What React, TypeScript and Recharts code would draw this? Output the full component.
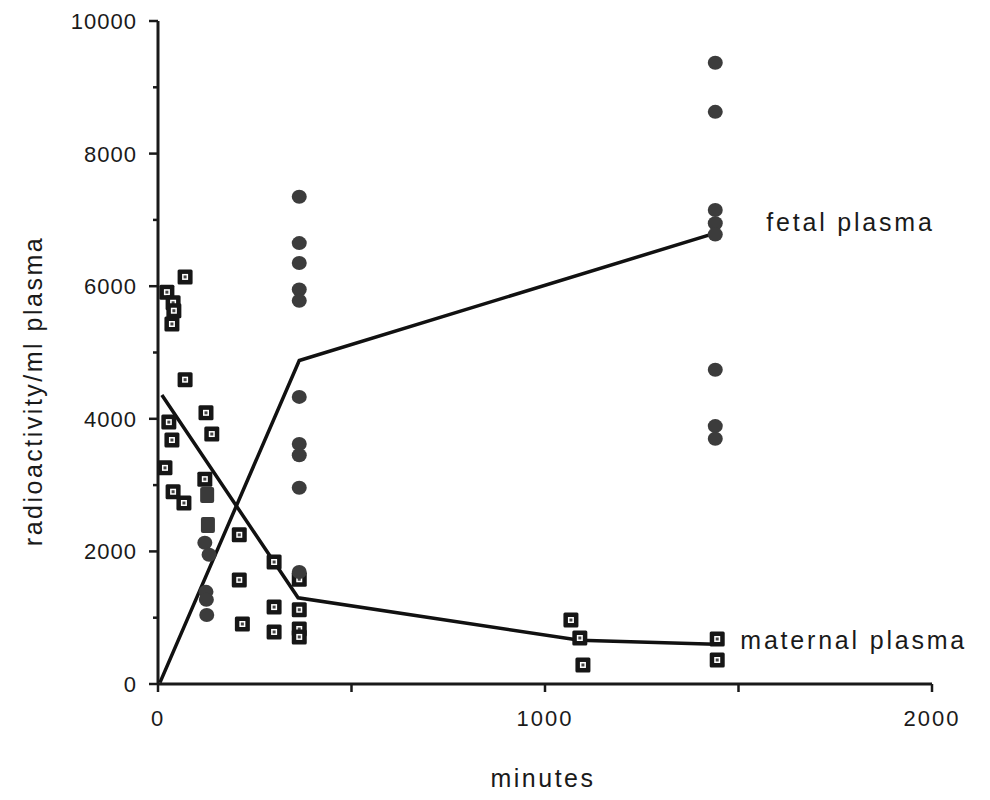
import React from 'react';
import { ScatterChart, Scatter, XAxis, YAxis, Label, ReferenceLine } from 'recharts';

// maternal plasma samples (open squares), minutes vs radioactivity
const maternalPoints = [
  { t: 23, v: 5910 }, { t: 39, v: 5750 }, { t: 41, v: 5630 }, { t: 36, v: 5430 },
  { t: 70, v: 6140 }, { t: 70, v: 4590 }, { t: 28, v: 3950 }, { t: 36, v: 3680 },
  { t: 18, v: 3260 }, { t: 39, v: 2900 }, { t: 67, v: 2730 }, { t: 124, v: 4090 },
  { t: 139, v: 3770 }, { t: 121, v: 3090 }, { t: 210, v: 2250 }, { t: 210, v: 1570 },
  { t: 218, v: 905 }, { t: 300, v: 1840 }, { t: 300, v: 1160 }, { t: 300, v: 785 },
  { t: 365, v: 1580 }, { t: 365, v: 1120 }, { t: 365, v: 830 }, { t: 365, v: 710 },
  { t: 1067, v: 965 }, { t: 1090, v: 694 }, { t: 1098, v: 287 },
  { t: 1445, v: 679 }, { t: 1445, v: 362 },
];

// dark filled squares near 2 h
const filledSquares = [{ t: 127, v: 2850 }, { t: 129, v: 2400 }];

// fetal plasma samples (filled dots)
const fetalPoints = [
  { t: 121, v: 2130 }, { t: 132, v: 1950 }, { t: 124, v: 1390 }, { t: 125, v: 1270 }, { t: 126, v: 1040 },
  { t: 365, v: 7350 }, { t: 365, v: 6650 }, { t: 365, v: 6350 }, { t: 365, v: 5950 }, { t: 365, v: 5780 },
  { t: 365, v: 4330 }, { t: 365, v: 3620 }, { t: 365, v: 3450 }, { t: 365, v: 2960 }, { t: 365, v: 1690 },
  { t: 1440, v: 9370 }, { t: 1440, v: 8630 }, { t: 1440, v: 7150 }, { t: 1440, v: 6950 },
  { t: 1440, v: 6780 }, { t: 1440, v: 4740 }, { t: 1440, v: 3890 }, { t: 1440, v: 3700 },
];

// mean lines
const fetalLine = [{ t: 5, v: 20 }, { t: 365, v: 4880 }, { t: 1440, v: 6800 }];
const maternalLine = [{ t: 10, v: 4360 }, { t: 362, v: 1300 }, { t: 1090, v: 660 }, { t: 1440, v: 600 }];

const xTicks = [0, 500, 1000, 1500, 2000];
const xTickLabels = ['0', '', '1000', '', '2000'];
const yTicks = [0, 1000, 2000, 3000, 4000, 5000, 6000, 7000, 8000, 9000, 10000];

const INK = '#1a1a1a';
const FONT = '"Liberation Sans", Arial, Helvetica, sans-serif';

function SquareMark(props: any) {
  const { cx, cy } = props;
  if (cx == null) return <g />;
  return (
    <g>
      <rect x={cx - 7.5} y={cy - 7.5} width={15} height={15} fill="#161616" rx={1.5} />
      <rect x={cx - 3} y={cy - 3} width={6} height={6} fill="#fff" />
      <rect x={cx - 1.5} y={cy - 1.5} width={3} height={3} fill="#444" />
    </g>
  );
}

function FilledSquare(props: any) {
  const { cx, cy } = props;
  if (cx == null) return <g />;
  return <rect x={cx - 7} y={cy - 8} width={14} height={16} rx={2} fill="#3a3a3a" />;
}

function Dot(props: any) {
  const { cx, cy } = props;
  if (cx == null) return <g />;
  return <ellipse cx={cx} cy={cy} rx={7.5} ry={7} fill="#3c3c3c" />;
}

const NoMark = () => <g />;

const XTick = (props: any) => {
  const { x, y, index } = props;
  return (
    <g>
      <line x1={x} x2={x} y1={y} y2={y + 8} stroke={INK} strokeWidth={2.5} />
      <text x={x} y={y + 42} textAnchor="middle" fill={INK} fontSize={22} fontFamily={FONT} style={{ letterSpacing: 2 }}>
        {xTickLabels[index] ?? ''}
      </text>
    </g>
  );
};

const YTick = (props: any) => {
  const { x, y, payload } = props;
  const major = payload.value % 2000 === 0;
  return (
    <g>
      <line x1={x} x2={x - (major ? 9 : 5)} y1={y} y2={y} stroke={INK} strokeWidth={2.5} />
      {major && (
        <text x={x - 21} y={y} dy="0.36em" textAnchor="end" fill={INK} fontSize={22} fontFamily={FONT} style={{ letterSpacing: 1 }}>
          {payload.value}
        </text>
      )}
    </g>
  );
};

const seriesLabel = (text: string, dx: number, dy: number) => (props: any) => {
  const { cx, cy } = props;
  if (cx == null) return <g />;
  return (
    <text x={cx + dx} y={cy + dy} dy="0.36em" fill={INK} fontSize={25} fontFamily={FONT} style={{ letterSpacing: 2.8 }}>
      {text}
    </text>
  );
};

export default function App() {
  const fetalEnd = [fetalLine[fetalLine.length - 1]];
  const maternalEnd = [maternalLine[maternalLine.length - 1]];
  return (
    <div style={{ position: 'absolute', left: 0, top: 0, width: 990, height: 800, background: '#fff' }}>
      <ScatterChart width={990} height={800} margin={{ top: 21, right: 58, bottom: 56, left: 58 }}>
        <XAxis
          type="number"
          dataKey="t"
          domain={[0, 2000]}
          ticks={xTicks}
          interval={0}
          height={60}
          tickSize={0}
          tickMargin={0}
          tickLine={false}
          axisLine={false}
          tick={<XTick />}
        >
          <Label
            content={() => (
              <text x={543} y={778} dy="0.36em" textAnchor="middle" fill={INK} fontSize={25} fontFamily={FONT} style={{ letterSpacing: 2.5 }}>
                minutes
              </text>
            )}
          />
        </XAxis>
        <YAxis
          type="number"
          dataKey="v"
          domain={[0, 10000]}
          ticks={yTicks}
          interval={0}
          width={100}
          tickSize={0}
          tickMargin={0}
          tickLine={false}
          axisLine={false}
          tick={<YTick />}
        >
          <Label
            content={() => (
              <text
                x={33}
                y={391}
                dy="0.36em"
                textAnchor="middle"
                transform="rotate(-90 33 391)"
                fill={INK}
                fontSize={25}
                fontFamily={FONT}
                style={{ letterSpacing: 2.5 }}
              >
                radioactivity/ml plasma
              </text>
            )}
          />
        </YAxis>
        <ReferenceLine x={0} stroke={INK} strokeWidth={3} />
        <ReferenceLine y={0} stroke={INK} strokeWidth={3} />
        <Scatter data={fetalLine} line={{ stroke: '#111', strokeWidth: 3.5 }} shape={NoMark} isAnimationActive={false} />
        <Scatter data={maternalLine} line={{ stroke: '#111', strokeWidth: 3.5 }} shape={NoMark} isAnimationActive={false} />
        <Scatter data={maternalPoints} shape={SquareMark} isAnimationActive={false} />
        <Scatter data={filledSquares} shape={FilledSquare} isAnimationActive={false} />
        <Scatter data={fetalPoints} shape={Dot} isAnimationActive={false} />
        <Scatter data={fetalEnd} shape={seriesLabel('fetal plasma', 51, -11)} isAnimationActive={false} />
        <Scatter data={maternalEnd} shape={seriesLabel('maternal plasma', 25, -4)} isAnimationActive={false} />
      </ScatterChart>
    </div>
  );
}
